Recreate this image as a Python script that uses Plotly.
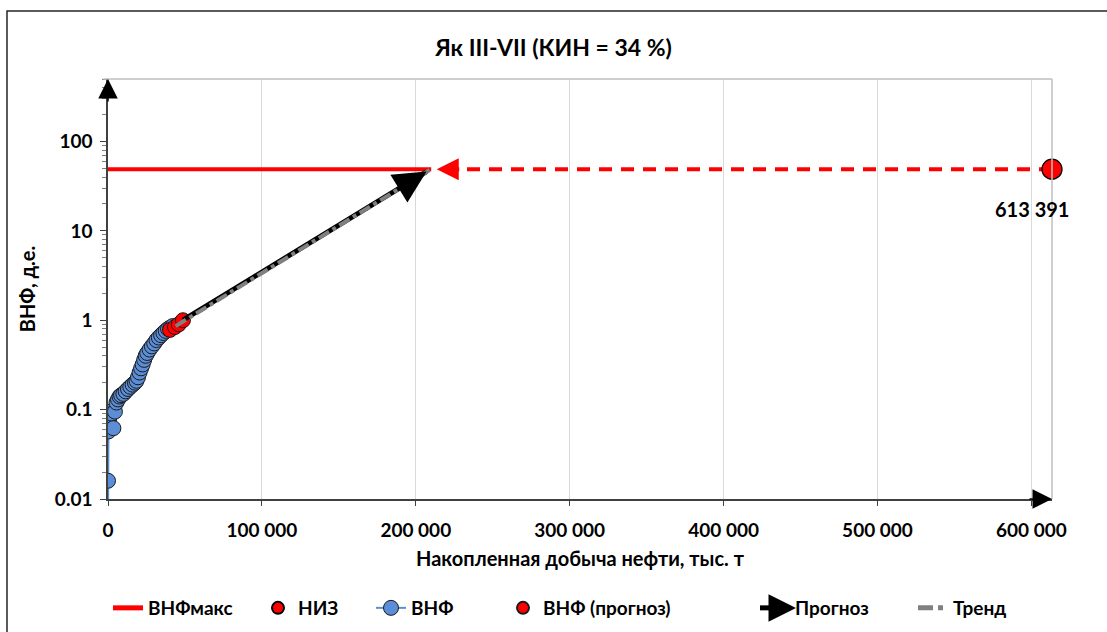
import plotly.graph_objects as go
import math

# ---- data ----
vnf_x = [0, 0, 300, 600, 1000, 1500, 2500, 3500, 4500, 5500, 6500, 7500, 8500, 10000,
         11500, 13000, 14500, 16000, 17500, 18500, 19500, 20500, 21500, 22500, 23500,
         24500, 25500, 27000, 28500, 30000, 31500, 33000, 34500, 36000, 37500, 39000,
         40500, 42000]
vnf_y = [0.005, 0.016, 0.057, 0.075, 0.085, 0.095, 0.09, 0.062, 0.095, 0.12, 0.13, 0.14,
         0.145, 0.15, 0.16, 0.17, 0.18, 0.19, 0.2, 0.21, 0.23, 0.26, 0.29, 0.32, 0.36,
         0.4, 0.43, 0.47, 0.51, 0.55, 0.6, 0.64, 0.68, 0.72, 0.76, 0.8, 0.83, 0.86]

prog_pts_x = [40300, 43500, 46000, 48700]
prog_pts_y = [0.78, 0.84, 0.9, 1.0]

vnf_max = 49
vnf_max_x = [0, 210000]

niz_x = [613391]
niz_y = [49]
niz_label = "613 391"
niz_arrow_end_x = 213600

forecast_x = [48700, 207000]
forecast_y = [1.0, 46]

trend_x = [44000, 209000]
trend_y = [0.86, 48]

x_ticks = [0, 100000, 200000, 300000, 400000, 500000, 600000]
x_ticktext = ["0", "100 000", "200 000", "300 000", "400 000", "500 000", "600 000"]
y_ticks = [0.01, 0.1, 1, 10, 100]
y_ticktext = ["0.01", "0.1", "1", "10", "100"]
y_minor = [m * 10.0 ** e for e in range(-2, 3) for m in range(2, 10) if m * 10.0 ** e <= 500]

title = "Як III-VII (КИН = 34 %)"
x_title = "Накопленная добыча нефти, тыс. т"
y_title = "ВНФ, д.е."

FONT = "Lato"
RED = "#FF0000"
BLUE = "#5B8ED6"
W, H = 1107, 632
PL, PR, PT, PB = 108, 1052, 79, 499


def px_to_paper(px, py):
    return (px - PL) / (PR - PL), (PB - py) / (PB - PT)


fig = go.Figure()

fig.add_trace(go.Scatter(x=vnf_max_x, y=[vnf_max, vnf_max], mode="lines", name="ВНФмакс",
                         legend="legend", line=dict(color=RED, width=4)))
# dashed red line from NIZ back to the max-line intersection
fig.add_trace(go.Scatter(x=[niz_x[0], niz_arrow_end_x + 8000], y=[niz_y[0], niz_y[0]], mode="lines",
                         showlegend=False, line=dict(color=RED, width=4, dash="13px,9px")))
fig.add_trace(go.Scatter(x=niz_x, y=niz_y, mode="markers", name="НИЗ", cliponaxis=False,
                         legend="legend2",
                         marker=dict(color=RED, size=20, line=dict(color="black", width=1.3))))
fig.add_trace(go.Scatter(x=vnf_x, y=vnf_y, mode="lines+markers", name="ВНФ", legend="legend3",
                         line=dict(color=BLUE, width=2),
                         marker=dict(color=BLUE, size=15, line=dict(color="#1a1a1a", width=1))))
fig.add_trace(go.Scatter(x=prog_pts_x, y=prog_pts_y, mode="markers", name="ВНФ (прогноз)",
                         legend="legend4",
                         marker=dict(color=RED, size=15, line=dict(color="#1a1a1a", width=1))))
fig.add_trace(go.Scatter(x=forecast_x, y=forecast_y, mode="lines", name="Прогноз", legend="legend5",
                         line=dict(color="black", width=5)))
fig.add_trace(go.Scatter(x=trend_x, y=trend_y, mode="lines", name="Тренд", legend="legend6",
                         line=dict(color="#808080", width=4, dash="dashdot")))

fig.add_annotation(x=niz_x[0], y=math.log10(niz_y[0]), text="<b>%s</b>" % niz_label,
                   showarrow=False, xshift=-20, yshift=-40,
                   font=dict(family=FONT, size=20, color="black"))

# arrowheads
fig.add_annotation(x=niz_arrow_end_x, y=math.log10(niz_y[0]), ax=24, ay=0, text="",
                   showarrow=True, arrowhead=2, arrowsize=1.1, arrowwidth=4, arrowcolor=RED, standoff=0)
fig.add_annotation(x=forecast_x[1], y=math.log10(forecast_y[1]), ax=-26, ay=16, text="",
                   showarrow=True, arrowhead=2, arrowsize=1.3, arrowwidth=5, arrowcolor="black", standoff=0)

# axis arrows
fig.add_annotation(x=0, y=1, xref="paper", yref="paper", ax=0, ay=24, text="",
                   showarrow=True, arrowhead=2, arrowsize=2.6, arrowwidth=1.5, arrowcolor="black", standoff=0)
fig.add_annotation(x=1, y=0, xref="paper", yref="paper", ax=-24, ay=0, text="",
                   showarrow=True, arrowhead=2, arrowsize=2.6, arrowwidth=1.5, arrowcolor="black", standoff=0)

# arrow on the "Прогноз" legend icon
lx, ly = px_to_paper(796, 608)
fig.add_annotation(x=lx, y=ly, xref="paper", yref="paper", ax=-26, ay=0, text="",
                   showarrow=True, arrowhead=2, arrowsize=1.1, arrowwidth=5, arrowcolor="black", standoff=0)

# plot-area border (top and right) and outer chart border
fig.add_shape(type="line", xref="paper", yref="paper", x0=-0.005, x1=1, y0=1, y1=1,
              line=dict(color="#BFBFBF", width=1.5))
fig.add_shape(type="line", xref="paper", yref="paper", x0=1, x1=1, y0=0, y1=1,
              line=dict(color="#BFBFBF", width=1.5))
fig.add_shape(type="rect", xref="paper", yref="paper",
              x0=-101 / 944, x1=1.1, y0=-0.5, y1=1 + 68 / 420,
              line=dict(color="#262626", width=1.5), layer="below")

# legends placed individually (text start positions in px)
legend_text_x = {"legend": 150, "legend2": 300, "legend3": 413, "legend4": 545,
                 "legend5": 797, "legend6": 955}
legend_layout = {}
for key, px in legend_text_x.items():
    legend_layout[key] = dict(x=(px - 42) / W, xref="container", xanchor="left",
                              y=1 - 608 / H, yref="container", yanchor="middle",
                              orientation="h", bgcolor="rgba(0,0,0,0)",
                              itemsizing="trace" if key == "legend3" else "constant",
                              font=dict(family=FONT, size=19, color="black", weight="bold"))

fig.update_layout(
    width=W, height=H,
    margin=dict(l=PL, r=W - PR, t=PT, b=H - PB),
    paper_bgcolor="white", plot_bgcolor="white",
    font=dict(family=FONT, size=18, color="black"),
    title=dict(text="<b>%s</b>" % title, x=0.5, xref="container", xanchor="center",
               y=1 - 48 / H, yanchor="middle", font=dict(family=FONT, size=23, color="black")),
    showlegend=True,
    xaxis=dict(range=[0, 613391], tickvals=x_ticks, ticktext=x_ticktext,
               showgrid=True, gridcolor="#D9D9D9", gridwidth=1, zeroline=False,
               showline=True, linecolor="#404040", linewidth=1.5,
               ticks="outside", ticklen=5, tickcolor="#404040", ticklabelstandoff=8,
               tickfont=dict(family=FONT, size=19, color="black", weight="bold"),
               title=dict(text="<b>%s</b>" % x_title, standoff=12,
                          font=dict(family=FONT, size=20, color="black"))),
    yaxis=dict(type="log", range=[-2, math.log10(500)], tickvals=y_ticks, ticktext=y_ticktext,
               showgrid=False, zeroline=False,
               showline=True, linecolor="#404040", linewidth=1.5,
               ticks="outside", ticklen=6, tickcolor="#404040", ticklabelstandoff=4,
               minor=dict(tickvals=y_minor, ticks="outside", ticklen=4, tickcolor="#7F7F7F", showgrid=False),
               tickfont=dict(family=FONT, size=19, color="black", weight="bold"),
               title=dict(text="<b>%s</b>" % y_title, standoff=14,
                          font=dict(family=FONT, size=20, color="black"))),
    **legend_layout,
)

fig.write_html("out.html")
